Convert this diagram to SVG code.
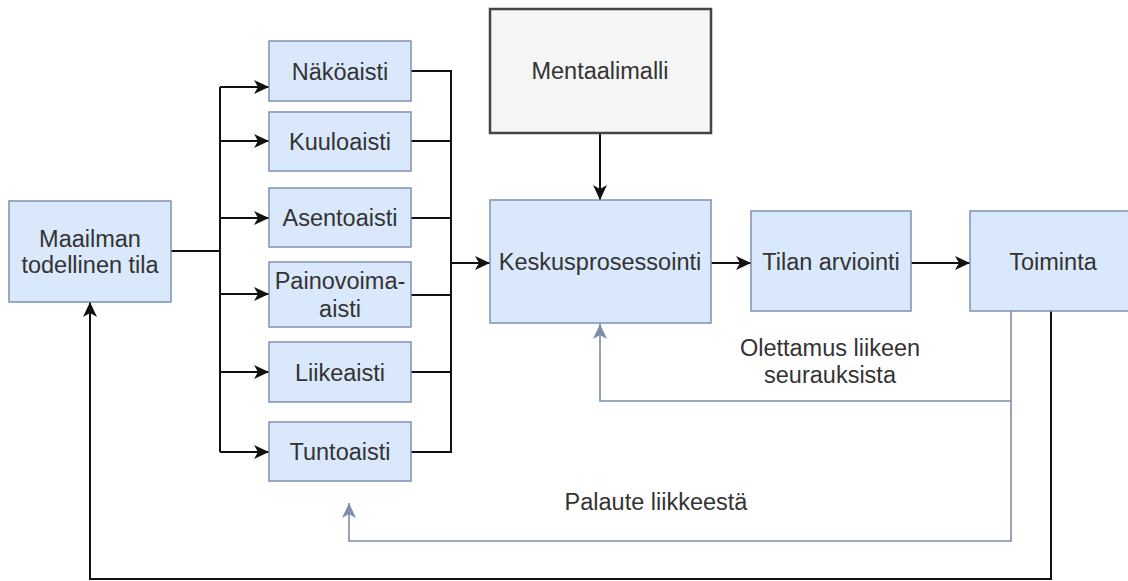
<svg xmlns="http://www.w3.org/2000/svg" width="1128" height="581" viewBox="0 0 1128 581">
<style>
.n{fill:#dae8fc;stroke:#7d91b0;stroke-width:1.5}
.g{fill:#f5f5f5;stroke:#444;stroke-width:2.5}
.t{font-family:"Liberation Sans",Arial,sans-serif;font-size:23.5px;fill:#333;text-anchor:middle}
.k{fill:none;stroke:#111;stroke-width:2}
.b{fill:none;stroke:#7d8ea6;stroke-width:1.6}
</style>
<defs>
<marker id="ak" markerUnits="userSpaceOnUse" markerWidth="16" markerHeight="14" refX="15" refY="7" orient="auto"><path d="M0,0 L15,7 L0,14 L4,7 z" fill="#111"/></marker>
<marker id="ab" markerUnits="userSpaceOnUse" markerWidth="16" markerHeight="14" refX="15" refY="7" orient="auto"><path d="M0,0 L15,7 L0,14 L4,7 z" fill="#7d8ea6"/></marker>
</defs>
<rect width="1128" height="581" fill="#fff"/>
<g id="connectors">
<path class="k" d="M171,251 H220"/>
<path class="k" d="M220,87 V452"/>
<path class="k" d="M220,87 H269" marker-end="url(#ak)"/>
<path class="k" d="M220,141 H269" marker-end="url(#ak)"/>
<path class="k" d="M220,218 H269" marker-end="url(#ak)"/>
<path class="k" d="M220,294 H269" marker-end="url(#ak)"/>
<path class="k" d="M220,372 H269" marker-end="url(#ak)"/>
<path class="k" d="M220,452 H269" marker-end="url(#ak)"/>
<path class="k" d="M411,71 H451 V452 H411"/>
<path class="k" d="M411,141 H451"/>
<path class="k" d="M411,218 H451"/>
<path class="k" d="M411,295 H451"/>
<path class="k" d="M411,372 H451"/>
<path class="k" d="M451,263 H490" marker-end="url(#ak)"/>
<path class="k" d="M600,133 V200" marker-end="url(#ak)"/>
<path class="k" d="M711,263 H751" marker-end="url(#ak)"/>
<path class="k" d="M911,263 H970" marker-end="url(#ak)"/>
<path class="b" d="M1011,311 V401 H600 V324" marker-end="url(#ab)"/>
<path class="b" d="M1011,401 V541 H349 V503" marker-end="url(#ab)"/>
<path class="k" d="M1051,311 V579 H90 V302" marker-end="url(#ak)"/>
</g>
<g id="maailman"><rect class="n" x="9" y="201" width="162" height="101"/><text class="t" x="90" y="247">Maailman</text><text class="t" x="90" y="273">todellinen tila</text></g>
<g id="nakoaisti"><rect class="n" x="269" y="41" width="142" height="60"/><text class="t" x="340" y="80">Näköaisti</text></g>
<g id="kuuloaisti"><rect class="n" x="269" y="112" width="142" height="59"/><text class="t" x="340" y="150">Kuuloaisti</text></g>
<g id="asentoaisti"><rect class="n" x="269" y="188" width="142" height="59"/><text class="t" x="340" y="226">Asentoaisti</text></g>
<g id="painovoimaaisti"><rect class="n" x="269" y="262" width="142" height="65"/><text class="t" x="340" y="289">Painovoima-</text><text class="t" x="340" y="317">aisti</text></g>
<g id="liikeaisti"><rect class="n" x="269" y="342" width="142" height="60"/><text class="t" x="340" y="381">Liikeaisti</text></g>
<g id="tuntoaisti"><rect class="n" x="269" y="422" width="142" height="59"/><text class="t" x="340" y="460">Tuntoaisti</text></g>
<g id="mentaalimalli"><rect class="g" x="490" y="9" width="221" height="124"/><text class="t" x="600" y="79">Mentaalimalli</text></g>
<g id="keskusprosessointi"><rect class="n" x="490" y="200" width="221" height="123"/><text class="t" x="600" y="270">Keskusprosessointi</text></g>
<g id="tilan"><rect class="n" x="751" y="211" width="160" height="100"/><text class="t" x="831" y="270">Tilan arviointi</text></g>
<g id="toiminta"><rect class="n" x="970" y="211" width="166" height="100"/><text class="t" x="1053" y="270">Toiminta</text></g>
<g id="labels">
<text class="t" x="830" y="356">Olettamus liikeen</text>
<text class="t" x="830" y="383">seurauksista</text>
<text class="t" x="656" y="510">Palaute liikkeestä</text>
</g>
</svg>
